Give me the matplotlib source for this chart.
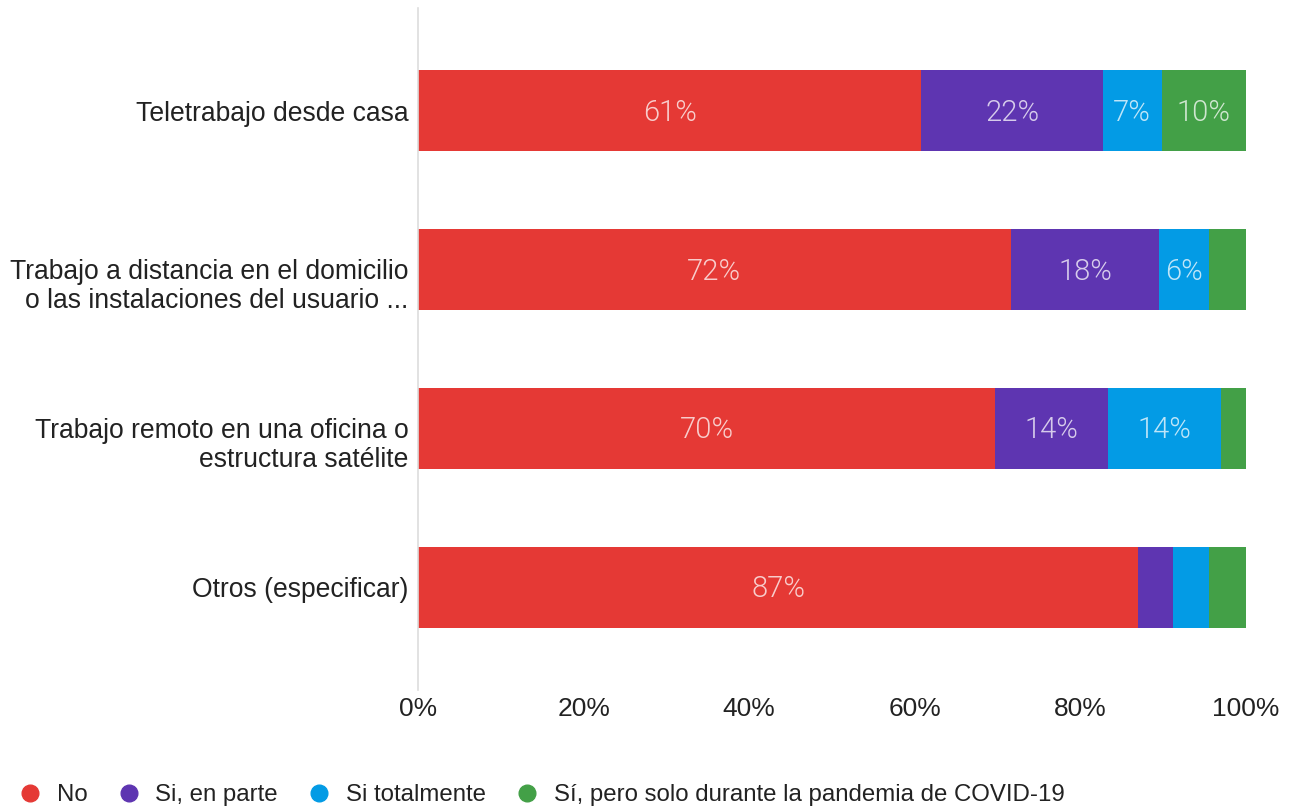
import matplotlib
matplotlib.use("Agg")
import matplotlib.pyplot as plt
from matplotlib.lines import Line2D
import matplotlib.transforms as mtransforms
import numpy as np

categories = [
    "Teletrabajo desde casa",
    "Trabajo a distancia en el domicilio\no las instalaciones del usuario ...",
    "Trabajo remoto en una oficina o\nestructura satélite",
    "Otros (especificar)",
]
series_names = ["No", "Si, en parte", "Si totalmente", "Sí, pero solo durante la pandemia de COVID-19"]
no_vals = [60.8, 71.6, 69.7, 87.0]
parte_vals = [21.9, 17.9, 13.6, 4.2]
total_vals = [7.1, 6.0, 13.7, 4.3]
covid_vals = [10.2, 4.5, 3.0, 4.5]
colors = ["#E53935", "#5E35B1", "#039BE5", "#43A047"]
xticks = [0, 20, 40, 60, 80, 100]
xticklabels = ["0%", "20%", "40%", "60%", "80%", "100%"]

plt.rcParams['font.family'] = ['Liberation Sans', 'DejaVu Sans']

fig = plt.figure(figsize=(12.92, 8.09), dpi=100)
ax = fig.add_axes([418/1292, 1-690/809, (1246-418)/1292, (690-8)/809])

label_shift = ax.transData + mtransforms.ScaledTranslation(0, -2/100, fig.dpi_scale_trans)
y = np.arange(len(categories))
left = np.zeros(len(categories))
for vals, col, name in zip([no_vals, parte_vals, total_vals, covid_vals], colors, series_names):
    vals = np.array(vals)
    ax.barh(y, vals, left=left, height=0.51, color=col, label=name)
    for yi, l, v in zip(y, left, vals):
        if v >= 5:
            ax.text(l + v/2, yi, f"{round(v):.0f}%", ha="center", va="center",
                    color="white", alpha=0.75, fontsize=21, fontweight=300,
                    family=["Roboto", "DejaVu Sans"], transform=label_shift)
    left += vals

ax.set_ylim(3.645, -0.645)
ax.set_xlim(0, 100)
ax.set_yticks(y)
ax.set_yticklabels(categories, fontsize=19.1, color="#222222", linespacing=1.15)
ax.set_xticks(xticks)
ax.set_xticklabels(xticklabels, fontsize=19, color="#222222")
ax.tick_params(axis="both", length=0)
ax.tick_params(axis="x", pad=5)
ax.tick_params(axis="y", pad=7)
for lab in ax.get_yticklabels():
    if "\n" in lab.get_text():
        lab.set_transform(lab.get_transform() +
                          mtransforms.ScaledTranslation(0, -12.4/100, fig.dpi_scale_trans))
for s in ["top", "right", "bottom"]:
    ax.spines[s].set_visible(False)
ax.spines["left"].set_color("#dddddd")
ax.spines["left"].set_linewidth(1.2)

handles = [Line2D([0], [0], marker="o", linestyle="", markersize=12, markerfacecolor=c,
                  markeredgecolor=c) for c in colors]
fig.legend(handles, series_names, loc="center left", bbox_to_anchor=(18/1292, 1-795/809),
           ncol=4, frameon=False, fontsize=17.3, handlelength=1.0, handletextpad=0.62,
           columnspacing=1.2, borderaxespad=0, borderpad=0, labelcolor="#222222")

fig.savefig("out.png", dpi=100)
